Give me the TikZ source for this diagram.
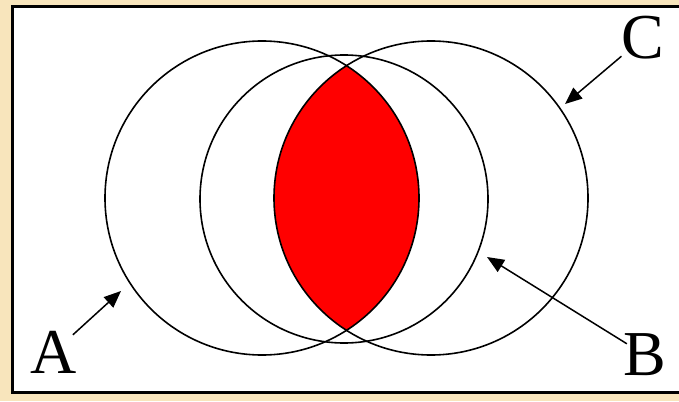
\documentclass[tikz,border=0pt]{standalone}
\usepackage{fontspec}
\setmainfont{Liberation Serif}
\usetikzlibrary{arrows.meta}
\definecolor{beige}{HTML}{F8E5BC}
\definecolor{lensred}{HTML}{FF0000}
\tikzset{
  setcircle/.style={draw=black, line width=1.6pt, circle, inner sep=0pt, minimum size=#1},
  setlabel/.style={inner sep=0pt, font=\fontsize{64}{64}\selectfont},
  pointer/.style={draw=black, line width=1.5pt, -{Triangle[length=17pt,width=14pt]}},
}
\begin{document}
\begin{tikzpicture}[x=1pt,y=-1pt]
\useasboundingbox (0,0) rectangle (679,401);
\clip (0,0) rectangle (679,401);
\fill[beige] (0,0) rectangle (679,401);
\draw[line width=3pt, fill=white] (12,6.5) rectangle (700,392.5);
% red lens = A intersect C
\begin{scope}
  \clip (262,198) circle (157);
  \fill[lensred] (431,198) circle (157);
\end{scope}
\node[setcircle=314pt] (A) at (262,198) {};
\node[setcircle=314pt] (C) at (431,198) {};
\node[setcircle=288pt] (B) at (344,199) {};
% labels
\node[setlabel] (Alab) at (54,352) {A};
\node[setlabel] (Blab) at (645,355) {B};
\node[setlabel] (Clab) at (643,38) {C};
% arrow tips
\coordinate (tipA) at (121,291);
\coordinate (tipB) at (487,257);
\coordinate (tipC) at (565,104);
\draw[pointer, shorten <=-6pt] (Alab) -- (tipA);
\draw[pointer, shorten <=-4pt] (Blab) -- (tipB);
\draw[pointer] (Clab) -- (tipC);
\end{tikzpicture}
\end{document}
